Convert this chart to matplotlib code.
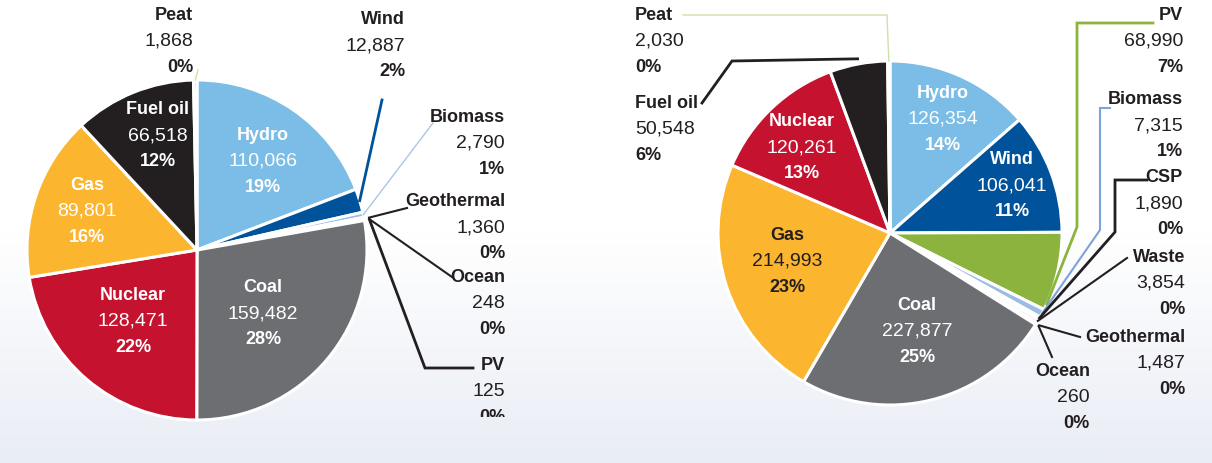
import numpy as np
import matplotlib.pyplot as plt
from matplotlib.colors import LinearSegmentedColormap
from matplotlib.patches import Rectangle

W, H = 1212, 463

# left pie
left_names = ['Hydro', 'Wind', 'Biomass', 'Geothermal', 'Ocean', 'PV',
              'Coal', 'Nuclear', 'Gas', 'Fuel oil', 'Peat']
left_values = [110066, 12887, 2790, 1360, 248, 125,
               159482, 128471, 89801, 66518, 1868]
left_pcts = ['19%', '2%', '1%', '0%', '0%', '0%', '28%', '22%', '16%', '12%', '0%']

# right pie
right_names = ['Hydro', 'Wind', 'PV', 'Biomass', 'CSP', 'Waste', 'Geothermal',
               'Ocean', 'Coal', 'Gas', 'Nuclear', 'Fuel oil', 'Peat']
right_values = [126354, 106041, 68990, 7315, 1890, 3854, 1487,
                260, 227877, 214993, 120261, 50548, 2030]
right_pcts = ['14%', '11%', '7%', '1%', '0%', '0%', '0%',
              '0%', '25%', '23%', '13%', '6%', '0%']

colors = {
    'Hydro': '#7BBDE6', 'Wind': '#00529B', 'Coal': '#6D6E72',
    'Nuclear': '#C4122F', 'Gas': '#FBB52E', 'Fuel oil': '#231F20',
    'Peat': '#CFE0A8', 'PV': '#8BB33E', 'Biomass': '#9CBCE3',
    'CSP': '#F6D2B8', 'Waste': '#F4F4F4', 'Geothermal': '#E0452B',
    'Ocean': '#F3B48E',
}

FONT = ['Liberation Sans', 'DejaVu Sans']
LS = 26  # line spacing in px


def Y(y):
    # image coordinates (y down) -> axes coordinates (y up)
    return H - y


fig = plt.figure(figsize=(W / 100, H / 100), dpi=100)
ax = fig.add_axes([0, 0, 1, 1])

# soft background gradient
cmap = LinearSegmentedColormap.from_list('bg', ['#FFFFFF', '#FFFFFF', '#E9EDF5'])
ax.imshow(np.linspace(0, 1, 256).reshape(-1, 1), cmap=cmap, aspect='auto',
          extent=(0, W, 0, H), zorder=0)


def draw_pie(values, names, center, radius, explode_name, expl):
    explode = [expl if n == explode_name else 0 for n in names]
    wedges, _ = ax.pie(values, colors=[colors[n] for n in names], startangle=90,
                       counterclock=False, center=(center[0], Y(center[1])),
                       radius=radius, explode=explode,
                       wedgeprops=dict(edgecolor='white', linewidth=2.2))
    for w in wedges:
        w.set_zorder(2)
    return dict(zip(names, wedges))


def anchor(wedge, frac=0.5, rfac=1.0):
    # point on a wedge: frac along its angle span, rfac of its radius
    a = np.deg2rad(wedge.theta1 + frac * (wedge.theta2 - wedge.theta1))
    cx, cy = wedge.center
    return cx + wedge.r * rfac * np.cos(a), cy + wedge.r * rfac * np.sin(a)


def label(x, y, name, value, pct, ha, color, clip=None):
    ts = [ax.text(x, Y(y), name, fontfamily=FONT, fontweight='bold',
                  fontsize=13, ha=ha, va='center', color=color, zorder=5),
          ax.text(x, Y(y + LS), f'{value:,}', fontfamily=FONT,
                  fontsize=14, ha=ha, va='center', color=color, zorder=5),
          ax.text(x, Y(y + 2 * LS), pct, fontfamily=FONT, fontweight='bold',
                  fontsize=13, ha=ha, va='center', color=color, zorder=5)]
    if clip is not None:
        for t in ts:
            t.set_clip_on(True)
            t.set_clip_path(clip)


def leader(points, wedge, color, lw, frac=0.5, rfac=1.0):
    ax_, ay_ = anchor(wedge, frac, rfac)
    xs = [p[0] for p in points] + [ax_]
    ys = [Y(p[1]) for p in points] + [ay_]
    ax.plot(xs, ys, color=color, lw=lw, solid_joinstyle='miter', zorder=4)


# ---------------- left pie ----------------
lw_ = draw_pie(left_values, left_names, (197, 250), 170, 'Hydro', 0.045)
lval = dict(zip(left_names, left_values))
lpct = dict(zip(left_names, left_pcts))

for n, (x, y, c) in {'Hydro': (263, 135, 'white'), 'Fuel oil': (158, 110, 'white'),
                     'Gas': (87, 185, 'white'), 'Nuclear': (133, 295, 'white'),
                     'Coal': (263, 288, 'white')}.items():
    label(x, y, n, lval[n], lpct[n], 'center', c)

clip_left = Rectangle((0, Y(417)), 600, 417, transform=ax.transData)
for n, (x, y) in {'Peat': (193, 15), 'Wind': (405, 20), 'Biomass': (505, 117),
                  'Geothermal': (505, 202), 'Ocean': (505, 277),
                  'PV': (505, 365)}.items():
    label(x, y, n, lval[n], lpct[n], 'right', '#231F20', clip=clip_left)

leader([(198, 70)], lw_['Peat'], colors['Peat'], 1)
leader([(382, 100)], lw_['Wind'], colors['Wind'], 2)
leader([(433, 123)], lw_['Biomass'], '#A9C6E8', 1)
leader([(407, 208)], lw_['Geothermal'], '#231F20', 1.5, rfac=1.03)
leader([(452, 277)], lw_['Ocean'], '#231F20', 1.5, rfac=1.03)
leader([(473, 368), (425, 368)], lw_['PV'], '#231F20', 2, rfac=1.03)

# ---------------- right pie ----------------
rw_ = draw_pie(right_values, right_names, (890, 233), 172, 'Hydro', 0.03)
rval = dict(zip(right_names, right_values))
rpct = dict(zip(right_names, right_pcts))

for n, (x, y, c) in {'Hydro': (943, 93, 'white'), 'Wind': (1012, 160, 'white'),
                     'Nuclear': (802, 122, 'white'), 'Gas': (787, 235, '#231F20'),
                     'Coal': (917, 305, 'white')}.items():
    label(x, y, n, rval[n], rpct[n], 'center', c)

for n, (x, y, ha) in {'Peat': (635, 15, 'left'), 'Fuel oil': (635, 103, 'left'),
                      'PV': (1183, 15, 'right'), 'Biomass': (1183, 100, 'right'),
                      'CSP': (1183, 178, 'right'), 'Waste': (1185, 257, 'right'),
                      'Geothermal': (1185, 337, 'right'),
                      'Ocean': (1090, 372, 'right')}.items():
    label(x, y, n, rval[n], rpct[n], ha, '#231F20')

leader([(683, 15), (887, 15)], rw_['Peat'], colors['Peat'], 1)
leader([(702, 103), (732, 61)], rw_['Fuel oil'], '#231F20', 2, rfac=1.03)
leader([(1153, 23), (1077, 23), (1077, 227)], rw_['PV'], colors['PV'], 2, frac=0.08)
leader([(1110, 108), (1100, 108), (1100, 230)], rw_['Biomass'], '#7DA3D8', 1.5)
leader([(1147, 180), (1115, 180), (1115, 232)], rw_['CSP'], '#231F20', 2)
leader([(1127, 258)], rw_['Waste'], '#231F20', 1.5)
leader([(1080, 337)], rw_['Geothermal'], '#231F20', 1.5, rfac=1.02)
leader([(1052, 357)], rw_['Ocean'], '#231F20', 1.5, rfac=1.02)

ax.set_xlim(0, W)
ax.set_ylim(0, H)
ax.set_aspect('auto')
ax.axis('off')

fig.savefig('out.png', dpi=100)
